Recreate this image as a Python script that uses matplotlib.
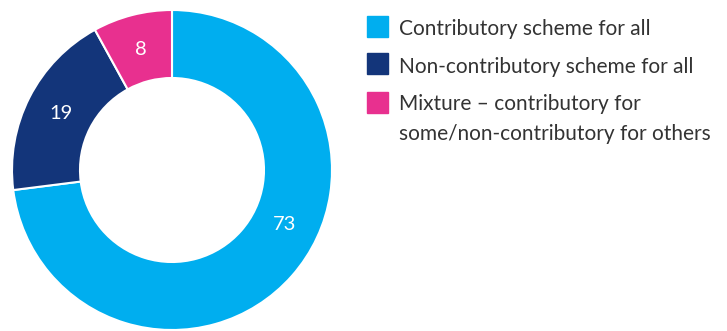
import matplotlib.pyplot as plt
from matplotlib.patches import Rectangle
import numpy as np

plt.rcParams['font.family'] = ['Lato', 'DejaVu Sans']

labels = ["Contributory scheme for all",
          "Non-contributory scheme for all",
          "Mixture \u2013 contributory for\nsome/non-contributory for others"]
values = [73, 19, 8]
colors = ["#00AEEF", "#13357A", "#E8308F"]
# angle (deg) where each value label sits; None -> middle of wedge
label_angles = [-26, None, None]

W, H = 727, 331
fig = plt.figure(figsize=(W / 100, H / 100), dpi=100)

cx, cy, r = 172, 170, 160
ax = fig.add_axes([(cx - r) / W, (H - cy - r) / H, 2 * r / W, 2 * r / H])
wedges, _ = ax.pie(values, colors=colors, startangle=90, counterclock=False,
                   radius=1, wedgeprops=dict(width=0.425, edgecolor="white", linewidth=1.5))
ax.set_xlim(-1, 1)
ax.set_ylim(-1, 1)
ax.set_aspect("equal")
ax.axis("off")

for w, v, a in zip(wedges, values, label_angles):
    ang = (w.theta1 + w.theta2) / 2 if a is None else a
    rr = 0.78
    ax.text(rr * np.cos(np.radians(ang)), rr * np.sin(np.radians(ang)), str(v),
            color="white", fontsize=14.5, ha="center", va="center")

# legend: boxes plus one text per line (baselines in px from top)
box_x, box_w = 367, 21
text_x = 399
box_tops = [16, 53, 92]
baselines = [35, 73, 110]
line_gap = 30
for lab, col, top, base in zip(labels, colors, box_tops, baselines):
    fig.patches.append(Rectangle((box_x / W, 1 - (top + box_w) / H), box_w / W, box_w / H,
                                 transform=fig.transFigure, color=col))
    for i, line in enumerate(lab.split("\n")):
        fig.text(text_x / W, 1 - (base + i * line_gap) / H, line, fontsize=15,
                 color="#333333", ha="left", va="baseline")

fig.savefig("out.png", dpi=100)
